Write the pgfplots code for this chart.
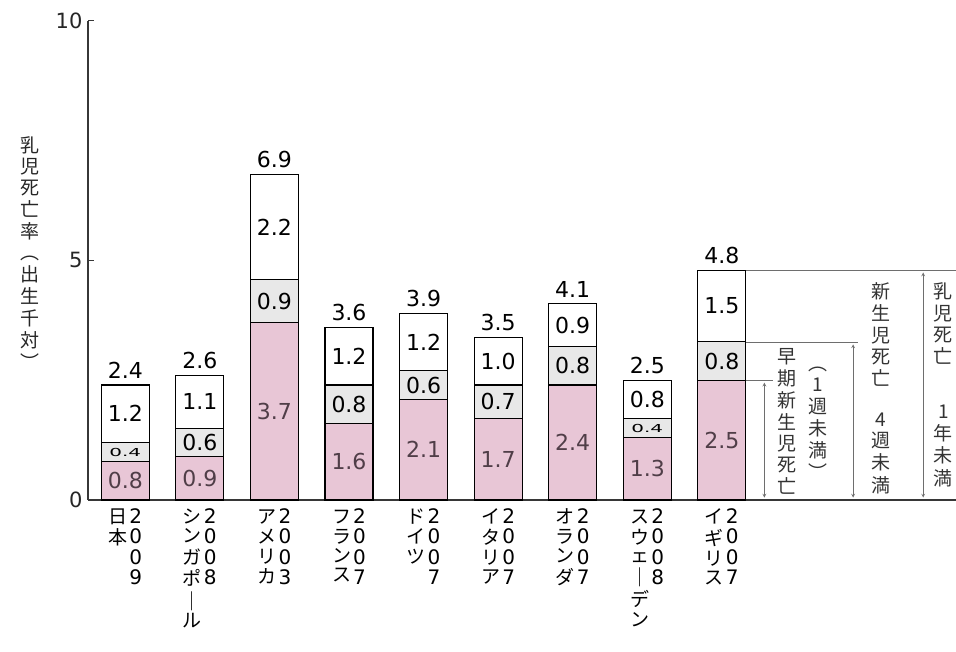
\documentclass[border=0pt]{standalone}
\usepackage{fontspec}
\setmainfont{DejaVu Sans}
\newfontfamily\jpfont{Noto Sans CJK JP}
\usepackage{pgfplots}
\usepackage{pgfplotstable}
\pgfplotsset{compat=1.18}

\definecolor{earlypink}{RGB}{232,198,214}
\definecolor{lategray}{RGB}{232,232,232}
\definecolor{axisgray}{RGB}{55,55,55}
\definecolor{notegray}{RGB}{110,110,110}
\definecolor{pinktext}{RGB}{80,62,72}

% one column of characters set top to bottom
\newcommand\vcolumn[1]{\begin{tabular}[t]{@{}c@{}}#1\end{tabular}}
\newcommand\vtext[1]{{\jpfont\begin{tabular}{@{}c@{}}#1\end{tabular}}}
\newcommand\countrylabel[2]{{\jpfont\fontsize{19}{18.5}\selectfont\vcolumn{#1}}\hspace{2pt}\vcolumn{#2}}

% infant deaths per 1000 births: under 1 week, 1-4 weeks, 4 weeks-1 year
\pgfplotstableread{
x early late post
0 0.8 0.4 1.2
1 0.9 0.6 1.1
2 3.7 0.9 2.2
3 1.6 0.8 1.2
4 2.1 0.6 1.2
5 1.7 0.7 1.0
6 2.4 0.8 0.9
7 1.3 0.4 0.8
8 2.5 0.8 1.5
}\ratetable

% value labels and the brackets at the right, drawn on top of the bars
\newcommand\barlabels{%
\tikzset{seg/.style={font=\fontsize{22}{22}\selectfont},
         pseg/.style={seg, text=pinktext},
         small/.style={font=\fontsize{20}{20}\selectfont, yscale=0.55},
         tot/.style={seg, anchor=south, yshift=3pt},
         note/.style={font=\fontsize{19}{20.5}\selectfont, inner sep=0pt, text=black!80}}%
\node[pseg] at (axis cs:0,0.40) {0.8};
\node[small] at (axis cs:0,1.00) {0.4};
\node[seg] at (axis cs:0,1.80) {1.2};
\node[pseg] at (axis cs:1,0.45) {0.9};
\node[seg] at (axis cs:1,1.20) {0.6};
\node[seg] at (axis cs:1,2.05) {1.1};
\node[pseg] at (axis cs:2,1.85) {3.7};
\node[seg] at (axis cs:2,4.15) {0.9};
\node[seg] at (axis cs:2,5.70) {2.2};
\node[pseg] at (axis cs:3,0.80) {1.6};
\node[seg] at (axis cs:3,2.00) {0.8};
\node[seg] at (axis cs:3,3.00) {1.2};
\node[pseg] at (axis cs:4,1.05) {2.1};
\node[seg] at (axis cs:4,2.40) {0.6};
\node[seg] at (axis cs:4,3.30) {1.2};
\node[pseg] at (axis cs:5,0.85) {1.7};
\node[seg] at (axis cs:5,2.05) {0.7};
\node[seg] at (axis cs:5,2.90) {1.0};
\node[pseg] at (axis cs:6,1.20) {2.4};
\node[seg] at (axis cs:6,2.80) {0.8};
\node[seg] at (axis cs:6,3.65) {0.9};
\node[pseg] at (axis cs:7,0.65) {1.3};
\node[small] at (axis cs:7,1.50) {0.4};
\node[seg] at (axis cs:7,2.10) {0.8};
\node[pseg] at (axis cs:8,1.25) {2.5};
\node[seg] at (axis cs:8,2.90) {0.8};
\node[seg] at (axis cs:8,4.05) {1.5};
\node[tot] at (axis cs:0,2.4) {2.4};
\node[tot] at (axis cs:1,2.6) {2.6};
\node[tot] at (axis cs:2,6.8) {6.9};
\node[tot] at (axis cs:3,3.6) {3.6};
\node[tot] at (axis cs:4,3.9) {3.9};
\node[tot] at (axis cs:5,3.4) {3.5};
\node[tot] at (axis cs:6,4.1) {4.1};
\node[tot] at (axis cs:7,2.5) {2.5};
\node[tot] at (axis cs:8,4.8) {4.8};
\draw[notegray, line width=0.7pt] (axis cs:8.33,4.8) -- (axis cs:11.14,4.8);
\draw[notegray, line width=0.7pt] (axis cs:8.33,3.3) -- (axis cs:9.82,3.3);
\draw[notegray, line width=0.7pt] (axis cs:8.33,2.5) -- (axis cs:8.68,2.5);
\draw[notegray, line width=0.7pt, <->, >=stealth] (axis cs:8.57,0.05) -- (axis cs:8.57,2.45);
\draw[notegray, line width=0.7pt, <->, >=stealth] (axis cs:9.76,0.05) -- (axis cs:9.76,3.25);
\draw[notegray, line width=0.7pt, <->, >=stealth] (axis cs:10.70,0.05) -- (axis cs:10.70,4.75);
\node[note] at (axis cs:8.88,1.59) {\vtext{早\\期\\新\\生\\児\\死\\亡}};
\node[note] at (axis cs:9.29,1.65) {\vtext{︵\\1\\週\\未\\満\\︶}};
\node[note] at (axis cs:10.13,3.40) {\vtext{新\\生\\児\\死\\亡}};
\node[note] at (axis cs:10.13,0.94) {\vtext{4\\週\\未\\満}};
\node[note] at (axis cs:10.97,3.63) {\vtext{乳\\児\\死\\亡}};
\node[note] at (axis cs:10.97,1.09) {\vtext{1\\年\\未\\満}};
}

\begin{document}
\begin{tikzpicture}
\useasboundingbox (0pt,0pt) rectangle (956pt,652pt);
\begin{axis}[
  at={(88pt,152pt)}, anchor=south west,
  scale only axis, width=868pt, height=479pt,
  xmin=-0.5, xmax=11.14, ymin=0, ymax=10,
  clip=false,
  axis x line=bottom, axis y line=left,
  axis line style={-, line width=1.3pt, color=axisgray},
  ybar stacked, bar width=48pt,
  ytick={0,5,10},
  tick align=inside, major tick length=6pt,
  ytick style={line width=1pt, color=axisgray},
  xtick style={draw=none},
  /pgf/number format/assume math mode=true,
  yticklabel style={font=\fontsize{21}{21}\selectfont, color=black!85, xshift=-2pt},
  xtick={0,...,8},
  xticklabels={
    {\countrylabel{日\\本}{2\\0\\0\\9}},
    {\countrylabel{シ\\ン\\ガ\\ポ\\｜\\ル}{2\\0\\0\\8}},
    {\countrylabel{ア\\メ\\リ\\カ}{2\\0\\0\\3}},
    {\countrylabel{フ\\ラ\\ン\\ス}{2\\0\\0\\7}},
    {\countrylabel{ド\\イ\\ツ}{2\\0\\0\\7}},
    {\countrylabel{イ\\タ\\リ\\ア}{2\\0\\0\\7}},
    {\countrylabel{オ\\ラ\\ン\\ダ}{2\\0\\0\\7}},
    {\countrylabel{ス\\ウ\\ェ\\｜\\デ\\ン}{2\\0\\0\\8}},
    {\countrylabel{イ\\ギ\\リ\\ス}{2\\0\\0\\7}}
  },
  xticklabel style={anchor=north, yshift=-5pt,
    font=\fontsize{20}{18.5}\selectfont},
  after end axis/.code={\barlabels},
]
\addplot[fill=earlypink, draw=black, line width=1.1pt] table[x=x, y=early] {\ratetable};
\addplot[fill=lategray, draw=black, line width=1.1pt] table[x=x, y=late] {\ratetable};
\addplot[fill=white, draw=black, line width=1.1pt] table[x=x, y=post] {\ratetable};
\end{axis}
% axis title, set top to bottom
\node[font=\fontsize{19}{20.5}\selectfont, inner sep=0pt, text=black!85] at (30pt,396pt)
  {\vtext{乳\\児\\死\\亡\\率\\︵\\出\\生\\千\\対\\︶}};
\end{tikzpicture}
\end{document}
